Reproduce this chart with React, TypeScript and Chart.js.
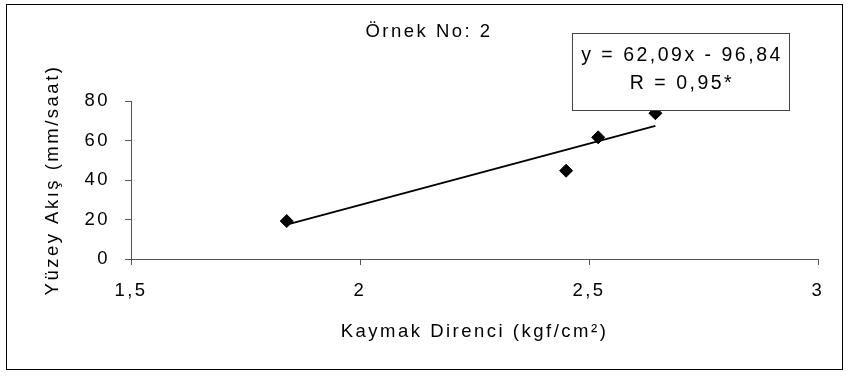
import React, { useEffect, useRef } from 'react';
import { Chart, registerables } from 'chart.js';

Chart.register(...registerables);

const chartTitle = 'Örnek No: 2';
const xAxisTitle = 'Kaymak Direnci (kgf/cm²)';
const yAxisTitle = 'Yüzey Akış (mm/saat)';

const xValues = [1.84, 2.45, 2.52, 2.645];
const yValues = [19.2, 44.7, 61.6, 73.8];

const trendX = [1.84, 2.645];
const trendY = [17.4, 67.4];

const xTickLabels = ['1,5', '2', '2,5', '3'];
const yTickLabels = ['0', '20', '40', '60', '80'];

const equationLines = ['y = 62,09x - 96,84', 'R = 0,95*'];

const FONT = "'Liberation Sans', Arial, sans-serif";
const SPACING = '2.5px';

const spacingPlugin = {
  id: 'letterSpacing',
  beforeUpdate(chart: any) {
    chart.ctx.letterSpacing = SPACING;
  },
  beforeDraw(chart: any) {
    chart.ctx.letterSpacing = SPACING;
  },
};

const framePlugin = {
  id: 'frameAndBox',
  afterDraw(chart: any) {
    const ctx = chart.ctx;
    ctx.save();
    // outer frame
    ctx.strokeStyle = '#000';
    ctx.lineWidth = 1;
    ctx.strokeRect(6.5, 4.5, 836, 365);
    // equation box
    const bx = 572.5, by = 33.5, bw = 217, bh = 77;
    ctx.fillStyle = '#fff';
    ctx.fillRect(bx, by, bw, bh);
    ctx.strokeStyle = '#444';
    ctx.strokeRect(bx, by, bw, bh);
    ctx.fillStyle = '#000';
    ctx.font = `19.5px ${FONT}`;
    ctx.letterSpacing = SPACING;
    ctx.textAlign = 'center';
    ctx.textBaseline = 'middle';
    ctx.fillText(equationLines[0], bx + bw / 2 + 1, 56);
    ctx.fillText(equationLines[1], bx + bw / 2 + 1, 84);
    ctx.restore();
  },
};

export default function App() {
  const ref = useRef<HTMLCanvasElement | null>(null);

  useEffect(() => {
    if (!ref.current) return;
    const chart = new Chart(ref.current, {
      type: 'scatter',
      data: {
        datasets: [
          {
            type: 'line',
            data: trendX.map((x, i) => ({ x, y: trendY[i] })),
            borderColor: '#000',
            borderWidth: 2,
            pointRadius: 0,
            fill: false,
          } as any,
          {
            type: 'scatter',
            data: xValues.map((x, i) => ({ x, y: yValues[i] })),
            pointStyle: 'rectRot',
            pointRadius: 6.5,
            backgroundColor: '#000',
            borderColor: '#000',
            borderWidth: 1,
          } as any,
        ],
      },
      options: {
        responsive: false,
        animation: false,
        events: [],
        layout: { padding: { left: 40, right: 31, top: 0, bottom: 0 } },
        plugins: {
          legend: { display: false },
          tooltip: { enabled: false },
          title: {
            display: true,
            text: chartTitle,
            color: '#000',
            font: { family: FONT, size: 18.5, weight: 'normal' },
            padding: { top: 21, bottom: 57.8 },
          },
        },
        scales: {
          x: {
            type: 'linear',
            position: 'bottom',
            min: 1.5,
            max: 3,
            afterFit: (s: any) => {
              s.height = 117;
            },
            ticks: {
              stepSize: 0.5,
              autoSkip: false,
              maxRotation: 0,
              padding: 15,
              color: '#000',
              font: { family: FONT, size: 18.5 },
              callback: (_v: any, i: number) => xTickLabels[i],
            },
            grid: {
              drawOnChartArea: false,
              drawTicks: true,
              tickLength: 6,
              color: '#555',
            },
            border: { display: true, color: '#555', width: 1 },
            title: {
              display: true,
              text: xAxisTitle,
              color: '#000',
              font: { family: FONT, size: 18.5 },
              padding: { top: 0, bottom: 32.5 },
            },
          },
          y: {
            type: 'linear',
            position: 'left',
            min: 0,
            max: 80,
            afterFit: (s: any) => {
              s.width = 91;
            },
            ticks: {
              stepSize: 20,
              autoSkip: false,
              padding: 15,
              color: '#000',
              font: { family: FONT, size: 18.5 },
              callback: (_v: any, i: number) => yTickLabels[i],
            },
            grid: {
              drawOnChartArea: false,
              drawTicks: true,
              tickLength: 6,
              color: '#555',
            },
            border: { display: true, color: '#555', width: 1 },
            title: {
              display: true,
              text: yAxisTitle,
              color: '#000',
              font: { family: FONT, size: 18.5 },
              padding: { top: 2, bottom: 0 },
            },
          },
        },
      },
      plugins: [spacingPlugin, framePlugin],
    });
    return () => chart.destroy();
  }, []);

  return (
    <div style={{ position: 'absolute', left: 0, top: 0, width: 849, height: 376, background: '#fff' }}>
      <canvas ref={ref} width={849} height={376} style={{ display: 'block' }} />
    </div>
  );
}
